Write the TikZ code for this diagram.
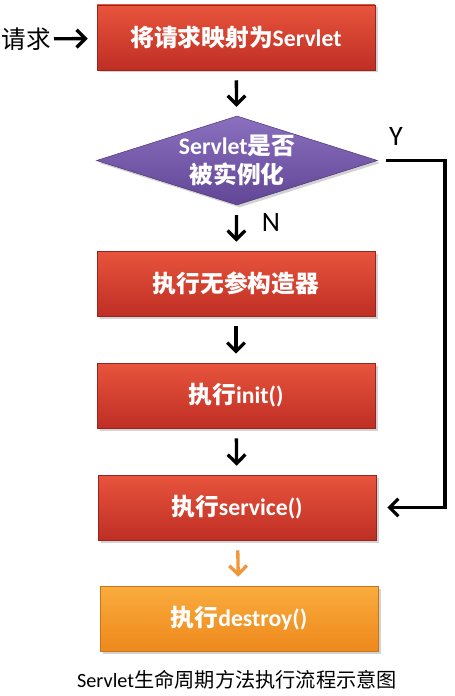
\documentclass[tikz,border=0pt]{standalone}
\usepackage{fontspec}
\setmainfont{Carlito}
\newfontfamily\zhfont{Noto Sans CJK SC}
\usetikzlibrary{shapes.geometric,shadows,arrows.meta}
\newcommand{\zh}[1]{{\zhfont #1}}
\definecolor{boxred}{RGB}{232,84,60}
\definecolor{boxredd}{RGB}{190,46,36}
\definecolor{boxpur}{RGB}{140,112,192}
\definecolor{boxpurd}{RGB}{98,70,150}
\definecolor{boxorg}{RGB}{250,172,62}
\definecolor{boxorgd}{RGB}{238,136,28}
\definecolor{arrorg}{RGB}{240,150,60}

\tikzset{
  stepbox/.style={rectangle, minimum width=5.56cm, minimum height=1.3cm, inner sep=0pt,
    text=white, font=\fontsize{13.5}{15}\selectfont\bfseries,
    drop shadow={shadow xshift=0.05cm, shadow yshift=-0.05cm, opacity=0.35}},
  redbox/.style={stepbox, top color=boxred, bottom color=boxredd, draw=boxredd!80!black, line width=0.3pt},
  orgbox/.style={stepbox, top color=boxorg, bottom color=boxorgd, draw=boxorgd!85!black, line width=0.3pt},
  decbox/.style={diamond, aspect=3.15, minimum width=5.62cm, minimum height=1.78cm, inner sep=0pt,
    top color=boxpur, bottom color=boxpurd, draw=boxpurd!80!black, line width=0.3pt,
    text=white, font=\fontsize{13.5}{16.5}\selectfont\bfseries, align=center,
    drop shadow={shadow xshift=0.05cm, shadow yshift=-0.05cm, opacity=0.35}},
  conn/.style={line width=1.9pt, -{Straight Barb[length=5pt,width=10pt]}, shorten <=0.2cm, shorten >=0.18cm},
  lbl/.style={font=\fontsize{16}{18}\selectfont}
}

\begin{document}
\begin{tikzpicture}
\useasboundingbox[fill=white] (0,0) rectangle (9.08,-13.92);
% boxes
\node[redbox] (map) at (4.72,-0.75) {\zh{将请求映射为}Servlet};
\node[decbox] (dec) at (4.74,-3.21) {Servlet\zh{是否}\\\zh{被实例化}};
\node[redbox] (ctor) at (4.72,-5.67) {\zh{执行无参构造器}};
\node[redbox] (init) at (4.72,-7.91) {\zh{执行}init()};
\node[redbox] (svc) at (4.74,-10.15) {\zh{执行}service()};
\node[orgbox] (dstr) at (4.78,-12.37) {\zh{执行}destroy()};
% labels
\node[font=\fontsize{14}{16}\selectfont, anchor=east, inner sep=0pt] (req) at (1.03,-0.78) {\zh{请求}};
\node[lbl] (ylbl) at (7.92,-2.72) {Y};
\node[lbl] (nlbl) at (5.42,-4.44) {N};
\node[font=\fontsize{11.5}{13}\selectfont] (cap) at (4.74,-13.6) {Servlet\zh{生命周期方法执行流程示意图}};
% connectors
\coordinate (corner) at (8.9,-3.21);
\draw[conn, shorten <=0.05cm] (req) -- (map);
\draw[conn] (map) -- (dec);
\draw[conn] (dec) -- (ctor);
\draw[conn] (ctor) -- (init);
\draw[conn] (init) -- (svc);
\draw[conn, draw=arrorg] (svc) -- (dstr);
\draw[conn, shorten <=0.16cm, shorten >=0.22cm] (dec.east) -- (corner) |- (svc.east);
\end{tikzpicture}
\end{document}
